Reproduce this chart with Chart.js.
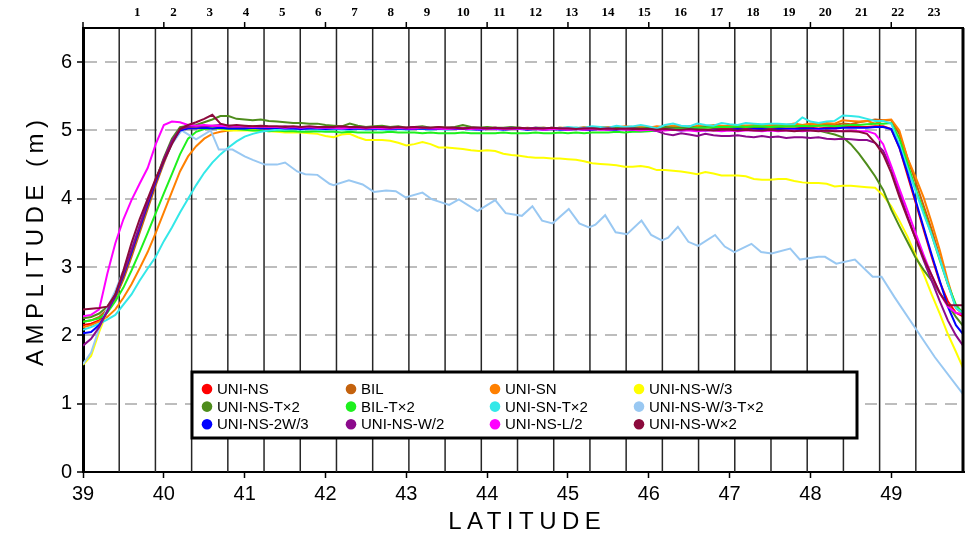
<!DOCTYPE html>
<html>
<head>
<meta charset="utf-8">
<script src="https://cdn.jsdelivr.net/npm/chart.js@4.4.1/dist/chart.umd.min.js"></script>
<style>
  body { margin: 0; background: #fff; }
  canvas { display: block; }
</style>
</head>
<body>
<canvas id="chart" width="968" height="537"></canvas>
<script>
const lats = [
    39.0, 39.1, 39.2, 39.3, 39.4, 39.5, 39.6, 39.7, 39.8, 39.9,
    40.0, 40.1, 40.2, 40.3, 40.4, 40.5, 40.6, 40.7, 40.8, 40.9,
    41.0, 41.1, 41.2, 41.3, 41.4, 41.5, 41.6, 41.7, 41.8, 41.9,
    42.0, 42.1, 42.2, 42.3, 42.4, 42.5, 42.6, 42.7, 42.8, 42.9,
    43.0, 43.1, 43.2, 43.3, 43.4, 43.5, 43.6, 43.7, 43.8, 43.9,
    44.0, 44.1, 44.2, 44.3, 44.4, 44.5, 44.6, 44.7, 44.8, 44.9,
    45.0, 45.1, 45.2, 45.3, 45.4, 45.5, 45.6, 45.7, 45.8, 45.9,
    46.0, 46.1, 46.2, 46.3, 46.4, 46.5, 46.6, 46.7, 46.8, 46.9,
    47.0, 47.1, 47.2, 47.3, 47.4, 47.5, 47.6, 47.7, 47.8, 47.9,
    48.0, 48.1, 48.2, 48.3, 48.4, 48.5, 48.6, 48.7, 48.8, 48.9,
    49.0, 49.1, 49.2, 49.3, 49.4, 49.5, 49.6, 49.7, 49.8, 49.9
];

const ampUniNS = [
    2.15, 2.17, 2.22, 2.35, 2.55, 2.85, 3.2, 3.55, 3.9, 4.25,
    4.55, 4.82, 5.0, 5.05, 5.06, 5.06, 5.05, 5.06, 5.05, 5.06,
    5.06, 5.05, 5.06, 5.05, 5.05, 5.04, 5.05, 5.05, 5.04, 5.05,
    5.04, 5.05, 5.04, 5.04, 5.05, 5.04, 5.03, 5.04, 5.04, 5.03,
    5.04, 5.03, 5.04, 5.03, 5.03, 5.04, 5.03, 5.03, 5.02, 5.03,
    5.03, 5.02, 5.03, 5.03, 5.02, 5.03, 5.02, 5.02, 5.03, 5.02,
    5.02, 5.03, 5.02, 5.02, 5.02, 5.03, 5.02, 5.02, 5.01, 5.02,
    5.02, 5.01, 5.02, 5.02, 5.01, 5.02, 5.02, 5.01, 5.02, 5.02,
    5.02, 5.03, 5.02, 5.03, 5.03, 5.02, 5.03, 5.03, 5.03, 5.04,
    5.04, 5.03, 5.04, 5.04, 5.05, 5.05, 5.05, 5.05, 5.06, 5.06,
    5.02, 4.75, 4.35, 3.95, 3.55, 3.15, 2.78, 2.5, 2.33, 2.27
];
const ampBIL = [
    2.2, 2.22, 2.27, 2.38, 2.55, 2.82, 3.15, 3.5, 3.85, 4.2,
    4.52, 4.82, 5.02, 5.05, 5.04, 5.05, 5.06, 5.05, 5.06, 5.05,
    5.05, 5.06, 5.05, 5.05, 5.04, 5.05, 5.05, 5.04, 5.05, 5.04,
    5.05, 5.04, 5.04, 5.05, 5.04, 5.03, 5.04, 5.04, 5.03, 5.04,
    5.03, 5.04, 5.03, 5.03, 5.04, 5.03, 5.03, 5.04, 5.03, 5.03,
    5.04, 5.03, 5.03, 5.04, 5.03, 5.04, 5.03, 5.03, 5.04, 5.03,
    5.04, 5.03, 5.04, 5.04, 5.03, 5.04, 5.05, 5.04, 5.05, 5.04,
    5.05, 5.04, 5.06, 5.05, 5.04, 5.06, 5.05, 5.07, 5.05, 5.06,
    5.07, 5.06, 5.07, 5.06, 5.08, 5.07, 5.06, 5.08, 5.07, 5.08,
    5.08, 5.07, 5.09, 5.08, 5.1, 5.09, 5.12, 5.14, 5.16, 5.15,
    5.15, 4.95, 4.6, 4.25, 3.9, 3.55, 3.15, 2.75, 2.42, 2.33
];
const ampUniSN = [
    2.12, 2.15, 2.2, 2.27, 2.38, 2.55, 2.75, 2.98, 3.22, 3.5,
    3.8, 4.1, 4.4, 4.62, 4.77, 4.88, 4.95, 4.98, 5.0, 5.01,
    5.02, 5.02, 5.03, 5.02, 5.03, 5.03, 5.02, 5.03, 5.03, 5.02,
    5.03, 5.02, 5.03, 5.03, 5.02, 5.03, 5.02, 5.03, 5.02, 5.03,
    5.02, 5.03, 5.02, 5.02, 5.03, 5.02, 5.03, 5.02, 5.02, 5.03,
    5.02, 5.03, 5.02, 5.03, 5.03, 5.02, 5.03, 5.04, 5.03, 5.04,
    5.04, 5.03, 5.05, 5.04, 5.05, 5.05, 5.04, 5.06, 5.05, 5.06,
    5.04, 5.06, 5.05, 5.07, 5.06, 5.04, 5.07, 5.06, 5.08, 5.07,
    5.06, 5.08, 5.07, 5.08, 5.07, 5.08, 5.09, 5.08, 5.1, 5.08,
    5.1, 5.09, 5.11, 5.1, 5.15, 5.14, 5.13, 5.14, 5.1, 5.15,
    5.16, 5.0, 4.6, 4.32, 4.02, 3.65, 3.25, 2.8, 2.4, 2.3
];
const ampUniNSW3 = [
    1.57, 1.7, 2.05, 2.35, 2.6, 2.9, 3.25, 3.6, 3.95, 4.28,
    4.58, 4.85, 5.0, 5.03, 5.03, 5.02, 5.04, 5.02, 5.0, 5.0,
    5.0, 5.0, 5.0, 4.99, 4.98, 4.97, 4.97, 4.97, 4.96, 4.95,
    4.92, 4.9, 4.94, 4.95, 4.9, 4.86, 4.86, 4.86, 4.85, 4.82,
    4.78, 4.8, 4.83, 4.8, 4.75, 4.75, 4.74, 4.73, 4.71, 4.7,
    4.71, 4.7, 4.66, 4.64, 4.63, 4.61, 4.6, 4.6, 4.59, 4.59,
    4.58, 4.57, 4.55, 4.52, 4.51, 4.5, 4.49, 4.47, 4.47, 4.48,
    4.46, 4.42, 4.42, 4.41, 4.4, 4.38, 4.36, 4.39, 4.37, 4.34,
    4.34, 4.34, 4.33, 4.29, 4.28, 4.28, 4.29, 4.29, 4.26, 4.24,
    4.23, 4.23, 4.22, 4.18, 4.19, 4.19, 4.18, 4.17, 4.16, 4.05,
    3.89, 3.68, 3.45, 3.18, 2.9, 2.6, 2.32, 2.02, 1.76, 1.49
];
const ampUniNSTx2 = [
    2.25, 2.27, 2.32, 2.42, 2.6, 2.88, 3.22, 3.57, 3.92, 4.27,
    4.6, 4.88, 5.05, 5.07, 5.08, 5.12, 5.16, 5.21, 5.21, 5.17,
    5.16, 5.15, 5.16, 5.14, 5.13, 5.12, 5.11, 5.11, 5.1, 5.1,
    5.08, 5.07, 5.06, 5.1, 5.07, 5.05, 5.06, 5.07, 5.05, 5.06,
    5.04, 5.05, 5.06, 5.04, 5.05, 5.04, 5.05, 5.08, 5.05, 5.04,
    5.05, 5.04, 5.04, 5.05, 5.04, 5.03, 5.04, 5.04, 5.03, 5.04,
    5.03, 5.04, 5.03, 5.04, 5.04, 5.03, 5.04, 5.03, 5.04, 5.03,
    5.04, 5.03, 5.05, 5.04, 5.04, 5.05, 5.04, 5.05, 5.04, 5.05,
    5.05, 5.04, 5.05, 5.05, 5.04, 5.05, 5.04, 5.03, 5.03, 5.02,
    5.01, 5.0, 4.97, 4.94, 4.9, 4.8, 4.66, 4.5, 4.33, 4.13,
    3.84, 3.6, 3.37, 3.14, 2.96, 2.8, 2.62, 2.45, 2.27, 2.12
];
const ampBILTx2 = [
    2.2, 2.22, 2.25, 2.33, 2.5, 2.7, 2.95, 3.22, 3.5, 3.79,
    4.08, 4.36, 4.65, 4.88, 4.98, 5.02, 5.03, 5.03, 5.02, 5.02,
    5.01, 5.0, 5.0, 4.99, 5.0, 4.99, 4.99, 4.98, 4.98, 4.99,
    4.98, 4.98, 4.97, 4.98, 4.97, 4.97, 4.97, 4.97, 4.98, 4.97,
    4.97, 4.97, 4.96, 4.97, 4.96, 4.96, 4.96, 4.97, 4.96, 4.96,
    4.96, 4.96, 4.97, 4.96, 4.96, 4.96, 4.97, 4.96, 4.96, 4.97,
    4.96, 4.97, 4.96, 4.97, 4.97, 4.97, 4.98, 4.97, 4.98, 4.98,
    4.99, 5.0, 5.01, 5.02, 5.02, 5.03, 5.04, 5.04, 5.05, 5.05,
    5.05, 5.06, 5.05, 5.06, 5.06, 5.05, 5.06, 5.06, 5.06, 5.07,
    5.06, 5.07, 5.07, 5.06, 5.07, 5.08, 5.08, 5.09, 5.1, 5.1,
    5.11, 4.88, 4.52, 4.15, 3.82, 3.47, 3.1, 2.75, 2.45, 2.3
];
const ampUniSNTx2 = [
    2.08, 2.12, 2.17, 2.23, 2.3, 2.45, 2.6, 2.8, 2.98, 3.15,
    3.38, 3.58, 3.8, 4.0, 4.2, 4.38, 4.53, 4.65, 4.75, 4.84,
    4.91, 4.95, 4.98, 5.0, 5.01, 5.01, 5.02, 5.01, 5.02, 5.01,
    5.01, 5.02, 5.01, 5.01, 5.02, 5.01, 5.02, 5.01, 5.01, 5.02,
    5.01, 5.02, 5.02, 5.01, 5.02, 5.01, 5.02, 5.02, 5.01, 5.02,
    5.02, 5.03, 5.02, 5.04, 5.03, 5.02, 5.04, 5.03, 5.04, 5.03,
    5.05, 5.04, 5.04, 5.06, 5.05, 5.04, 5.07, 5.05, 5.06, 5.08,
    5.06, 5.03, 5.08, 5.1, 5.07, 5.06, 5.1, 5.08, 5.07, 5.11,
    5.09, 5.08, 5.11, 5.1, 5.09, 5.1, 5.1, 5.09, 5.09, 5.19,
    5.13, 5.11, 5.13, 5.14, 5.22, 5.21, 5.2, 5.17, 5.14, 5.14,
    5.1, 4.8, 4.45, 4.12, 3.78, 3.47, 3.12, 2.75, 2.4, 2.32
];
// this one is kept at its own vertices, its sawtooth does not fit the 0.1 grid
const latsW3Tx2 = [
    39.0, 39.1, 39.2, 39.3, 39.4, 39.5, 39.6, 39.7, 39.8, 39.9,
    40.0, 40.1, 40.22, 40.4, 40.58, 40.68, 40.85, 41.0, 41.1, 41.25,
    41.4, 41.5, 41.65, 41.75, 41.9, 42.05, 42.1, 42.29, 42.46, 42.6,
    42.75, 42.87, 42.99, 43.2, 43.32, 43.53, 43.65, 43.88, 44.1, 44.23,
    44.43, 44.56, 44.68, 44.81, 45.01, 45.14, 45.26, 45.34, 45.46, 45.59,
    45.73, 45.91, 46.03, 46.16, 46.24, 46.36, 46.49, 46.61, 46.82, 46.94,
    47.06, 47.27, 47.39, 47.52, 47.75, 47.87, 48.1, 48.18, 48.32, 48.55,
    48.77, 48.88, 49.04, 49.29, 49.54, 49.9
];
const ampUniNSW3Tx2 = [
    1.58, 1.75, 2.1, 2.4, 2.65, 2.95, 3.3, 3.65, 3.97, 4.27,
    4.55, 4.8, 5.0, 4.87, 5.0, 4.72, 4.72, 4.62, 4.57, 4.5,
    4.5, 4.53, 4.4, 4.36, 4.35, 4.22, 4.2, 4.27, 4.21, 4.1,
    4.12, 4.11, 4.02, 4.09, 3.99, 3.91, 3.99, 3.82, 3.98, 3.79,
    3.75, 3.89, 3.68, 3.64, 3.85, 3.64, 3.58, 3.62, 3.76, 3.51,
    3.48, 3.68, 3.47, 3.39, 3.43, 3.59, 3.37, 3.31, 3.47, 3.3,
    3.22, 3.34, 3.22, 3.2, 3.27, 3.11, 3.15, 3.15, 3.05, 3.11,
    2.86, 2.86, 2.56, 2.12, 1.68, 1.12
];
const ampUniNS2W3 = [
    2.03, 2.05, 2.15, 2.35, 2.58, 2.88, 3.22, 3.57, 3.92, 4.25,
    4.55, 4.82, 5.0, 5.03, 5.03, 5.04, 5.03, 5.04, 5.03, 5.03,
    5.03, 5.04, 5.03, 5.03, 5.04, 5.03, 5.03, 5.02, 5.03, 5.03,
    5.02, 5.03, 5.03, 5.02, 5.03, 5.02, 5.03, 5.02, 5.02, 5.03,
    5.02, 5.02, 5.03, 5.02, 5.02, 5.03, 5.02, 5.02, 5.02, 5.01,
    5.02, 5.02, 5.01, 5.02, 5.02, 5.01, 5.02, 5.01, 5.02, 5.01,
    5.01, 5.02, 5.01, 5.01, 5.02, 5.01, 5.01, 5.02, 5.01, 5.01,
    5.01, 5.0, 5.01, 5.01, 5.0, 5.01, 5.01, 5.0, 5.01, 5.01,
    5.01, 5.02, 5.01, 5.02, 5.02, 5.01, 5.02, 5.02, 5.02, 5.03,
    5.03, 5.02, 5.03, 5.03, 5.04, 5.04, 5.04, 5.04, 5.05, 5.05,
    5.02, 4.75, 4.38, 3.98, 3.58, 3.18, 2.8, 2.42, 2.15, 2.0
];
const ampUniNSW2 = [
    1.85, 1.95, 2.12, 2.35, 2.6, 2.9, 3.25, 3.6, 3.95, 4.28,
    4.58, 4.85, 5.02, 5.05, 5.06, 5.06, 5.07, 5.08, 5.07, 5.06,
    5.06, 5.05, 5.06, 5.05, 5.05, 5.06, 5.05, 5.05, 5.05, 5.04,
    5.05, 5.04, 5.05, 5.04, 5.05, 5.04, 5.04, 5.05, 5.04, 5.04,
    5.04, 5.05, 5.04, 5.04, 5.03, 5.04, 5.04, 5.03, 5.04, 5.04,
    5.03, 5.04, 5.03, 5.04, 5.03, 5.03, 5.04, 5.03, 5.03, 5.03,
    5.03, 5.02, 5.03, 5.03, 5.02, 5.03, 5.02, 5.02, 5.03, 5.02,
    5.02, 4.99, 4.95, 4.93, 4.96, 4.94, 4.92, 4.95, 4.93, 4.92,
    4.92, 4.93, 4.91, 4.9, 4.92, 4.9, 4.91, 4.89, 4.9, 4.9,
    4.89, 4.9, 4.88, 4.87, 4.88, 4.87, 4.86, 4.86, 4.82, 4.7,
    4.45, 4.1, 3.75, 3.42, 3.1, 2.8, 2.5, 2.22, 2.0, 1.83
];
const ampUniNSL2 = [
    2.28, 2.3, 2.38, 2.9, 3.35, 3.7, 3.98, 4.22, 4.45, 4.8,
    5.08, 5.13, 5.12, 5.08, 5.07, 5.08, 5.07, 5.07, 5.06, 5.06,
    5.06, 5.05, 5.06, 5.05, 5.05, 5.04, 5.05, 5.04, 5.05, 5.04,
    5.04, 5.04, 5.03, 5.04, 5.04, 5.03, 5.04, 5.03, 5.03, 5.04,
    5.03, 5.03, 5.04, 5.03, 5.03, 5.02, 5.03, 5.03, 5.02, 5.03,
    5.02, 5.03, 5.02, 5.02, 5.03, 5.02, 5.02, 5.01, 5.02, 5.02,
    5.01, 5.02, 5.01, 5.02, 5.01, 5.01, 5.02, 5.01, 5.01, 5.0,
    5.01, 5.0, 5.0, 5.01, 5.0, 5.0, 4.99, 5.0, 5.0, 4.99,
    5.0, 4.99, 5.0, 5.0, 4.99, 5.0, 4.99, 5.0, 5.0, 4.99,
    5.0, 5.0, 4.99, 5.0, 4.99, 5.0, 4.99, 4.99, 4.95, 4.8,
    4.48, 4.15, 3.83, 3.5, 3.18, 2.88, 2.62, 2.42, 2.33, 2.3
];
const ampUniNSWx2 = [
    2.38, 2.39, 2.4, 2.42, 2.6, 2.95, 3.35, 3.7, 4.0, 4.3,
    4.55, 4.8, 5.02, 5.08, 5.12, 5.17, 5.23, 5.1, 5.07, 5.08,
    5.07, 5.06, 5.07, 5.06, 5.06, 5.05, 5.06, 5.05, 5.06, 5.05,
    5.05, 5.05, 5.06, 5.05, 5.05, 5.04, 5.05, 5.05, 5.04, 5.05,
    5.04, 5.05, 5.04, 5.04, 5.05, 5.04, 5.04, 5.03, 5.04, 5.04,
    5.03, 5.04, 5.03, 5.03, 5.04, 5.03, 5.03, 5.03, 5.04, 5.03,
    5.03, 5.02, 5.03, 5.03, 5.02, 5.03, 5.02, 5.03, 5.02, 5.02,
    5.02, 5.01, 5.02, 5.01, 5.01, 5.02, 5.01, 5.01, 5.0, 5.01,
    5.01, 5.0, 5.01, 5.0, 5.0, 5.01, 5.0, 5.0, 4.99, 5.0,
    5.0, 4.99, 5.0, 4.99, 4.99, 4.99, 4.98, 4.95, 4.82, 4.65,
    4.38, 4.03, 3.72, 3.42, 3.13, 2.88, 2.62, 2.44, 2.44, 2.44
];

const seriesNames = [
    "UNI-NS", "BIL", "UNI-SN", "UNI-NS-W/3",
    "UNI-NS-T×2", "BIL-T×2", "UNI-SN-T×2", "UNI-NS-W/3-T×2",
    "UNI-NS-2W/3", "UNI-NS-W/2", "UNI-NS-L/2", "UNI-NS-W×2"
];
const seriesColors = [
    "#ff0000", "#c4620e", "#ff8000", "#ffff00",
    "#4e8c1c", "#1ef01e", "#33e8e8", "#99c8f2",
    "#0000ff", "#8c0a8c", "#ff00ff", "#8c0a3c"
];
const seriesValues = [
    ampUniNS, ampBIL, ampUniSN, ampUniNSW3,
    ampUniNSTx2, ampBILTx2, ampUniSNTx2, ampUniNSW3Tx2,
    ampUniNS2W3, ampUniNSW2, ampUniNSL2, ampUniNSWx2
];
const seriesLats = [
    lats, lats, lats, lats,
    lats, lats, lats, latsW3Tx2,
    lats, lats, lats, lats
];

// segment boundaries (latitude) and their numbers along the top
const segmentEdges = [
    39.448, 39.896, 40.344, 40.792, 41.24, 41.688, 42.136, 42.584,
    43.032, 43.48, 43.928, 44.376, 44.824, 45.272, 45.72, 46.168,
    46.616, 47.064, 47.512, 47.96, 48.408, 48.856, 49.304
];
const segmentLabels = [
    "1", "2", "3", "4", "5", "6", "7", "8", "9", "10", "11", "12",
    "13", "14", "15", "16", "17", "18", "19", "20", "21", "22", "23"
];
const xTicks = [39, 40, 41, 42, 43, 44, 45, 46, 47, 48, 49];

const FONT = "'Liberation Sans', Arial, sans-serif";
Chart.defaults.font.family = FONT;
Chart.defaults.color = "#000";

function strokeLine(ctx, x1, y1, x2, y2) {
    ctx.beginPath();
    ctx.moveTo(x1, y1);
    ctx.lineTo(x2, y2);
    ctx.stroke();
}

function spacedText(ctx, text, x, y, spacing) {
    ctx.letterSpacing = spacing + "px";
    // letterSpacing adds a trailing gap, shift back half of it
    ctx.fillText(text, x + spacing / 2, y);
    ctx.letterSpacing = "0px";
}

const decorations = {
    id: "decorations",
    beforeDatasetsDraw(chart) {
        const { ctx, chartArea: a, scales: { x } } = chart;
        ctx.save();
        ctx.strokeStyle = "#262626";
        ctx.lineWidth = 1.5;
        segmentEdges.forEach(v => {
            const px = x.getPixelForValue(v);
            strokeLine(ctx, px, a.top, px, a.bottom);
        });
        ctx.restore();
    },
    afterDatasetsDraw(chart) {
        const { ctx, chartArea: a, scales: { x } } = chart;
        ctx.save();

        // frame
        ctx.strokeStyle = "#000";
        ctx.lineWidth = 2;
        strokeLine(ctx, a.left, a.top, a.right, a.top);
        ctx.lineWidth = 3;
        strokeLine(ctx, a.right - 1, a.top, a.right - 1, a.bottom);

        // top ticks
        ctx.lineWidth = 1.5;
        xTicks.forEach(v => {
            const px = x.getPixelForValue(v);
            strokeLine(ctx, px, a.top - 6, px, a.top);
        });

        // segment numbers
        const w = segmentEdges[1] - segmentEdges[0];
        ctx.font = "bold 13px 'Liberation Serif', serif";
        ctx.fillStyle = "#000";
        ctx.textAlign = "center";
        ctx.textBaseline = "middle";
        segmentLabels.forEach((lab, i) => {
            ctx.fillText(lab, x.getPixelForValue(segmentEdges[i] + w / 2), 13);
        });

        // legend
        const lx = a.left + 109, ly = 372, lw = 665, lh = 66;
        ctx.fillStyle = "#fff";
        ctx.fillRect(lx, ly, lw, lh);
        ctx.lineWidth = 3;
        ctx.strokeStyle = "#000";
        ctx.strokeRect(lx, ly, lw, lh);
        ctx.font = "15px " + FONT;
        ctx.textAlign = "left";
        seriesNames.forEach((name, i) => {
            const cx = lx + 15 + (i % 4) * 144;
            const cy = ly + 17 + Math.floor(i / 4) * 17.6;
            ctx.beginPath();
            ctx.arc(cx, cy, 5.3, 0, Math.PI * 2);
            ctx.fillStyle = seriesColors[i];
            ctx.fill();
            ctx.fillStyle = "#000";
            ctx.fillText(name, cx + 10, cy + 1);
        });
        ctx.restore();
    },
    afterDraw(chart) {
        const { ctx, chartArea: a } = chart;
        ctx.save();
        ctx.fillStyle = "#000";
        ctx.font = "24px " + FONT;
        ctx.textAlign = "center";
        ctx.textBaseline = "middle";
        spacedText(ctx, "LATITUDE", (a.left + a.right) / 2 + 1, 522, 5.5);
        ctx.translate(36, 243);
        ctx.rotate(-Math.PI / 2);
        spacedText(ctx, "AMPLITUDE (m)", 0, 0, 5.5);
        ctx.restore();
    }
};

const datasets = seriesNames.map((name, i) => ({
    label: name,
    data: seriesLats[i].map((lat, j) => ({ x: lat, y: seriesValues[i][j] })),
    borderColor: seriesColors[i],
    backgroundColor: seriesColors[i],
    borderWidth: 2,
    pointRadius: 0,
    tension: 0,
    fill: false,
    order: seriesNames.length - i
}));

const onlyWhole = v => Number.isInteger(v) ? v : "";

new Chart(document.getElementById("chart").getContext("2d"), {
    type: "line",
    data: { datasets },
    options: {
        responsive: false,
        animation: false,
        layout: { padding: { top: 28, right: 1, left: 0, bottom: 0 } },
        plugins: { legend: { display: false }, tooltip: { enabled: false } },
        scales: {
            x: {
                type: "linear",
                min: 39,
                max: 49.9,
                afterFit: s => { s.height = 65; },
                ticks: {
                    stepSize: 1,
                    autoSkip: false,
                    maxRotation: 0,
                    padding: 4,
                    font: { size: 20 },
                    callback: onlyWhole
                },
                grid: {
                    drawOnChartArea: false,
                    tickLength: 6,
                    tickWidth: 1.5,
                    tickColor: c => Number.isInteger(c.tick && c.tick.value) ? "#000" : "rgba(0,0,0,0)"
                },
                border: { color: "#000", width: 2 }
            },
            y: {
                min: 0,
                max: 6.5,
                afterFit: s => { s.width = 83; },
                ticks: {
                    stepSize: 1,
                    padding: 5,
                    font: { size: 20 },
                    callback: onlyWhole
                },
                grid: {
                    color: c => (c.tick && c.tick.value > 0 && c.tick.value < 6.5) ? "#bdbdbd" : "rgba(0,0,0,0)",
                    lineWidth: 2,
                    tickLength: 6,
                    tickWidth: 1.5,
                    tickBorderDash: [],
                    tickColor: c => Number.isInteger(c.tick && c.tick.value) ? "#000" : "rgba(0,0,0,0)"
                },
                border: { color: "#000", width: 3, dash: [12, 8] }
            }
        }
    },
    plugins: [decorations]
});
</script>
</body>
</html>
